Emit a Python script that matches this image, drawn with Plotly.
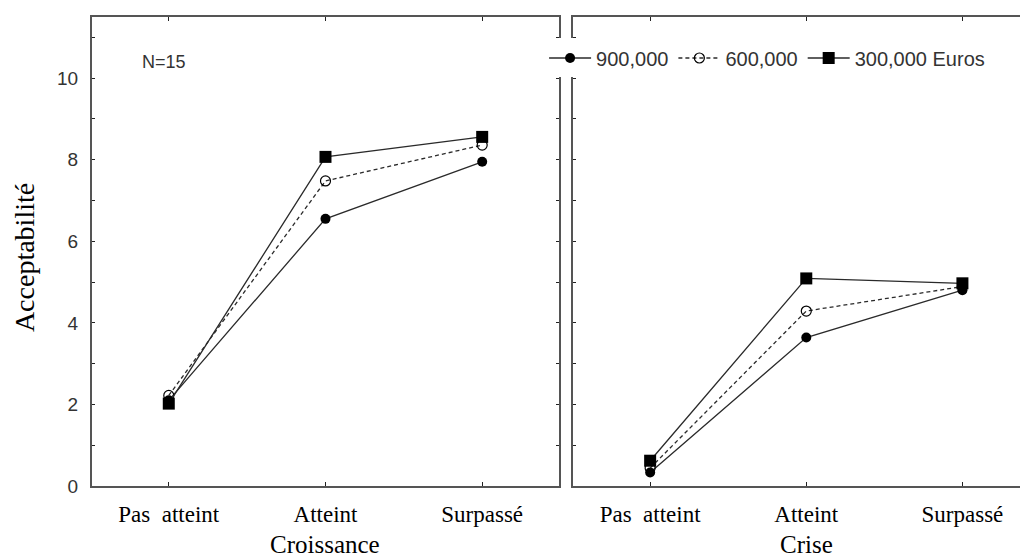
import plotly.graph_objs as go

# categories and values
categories = ['Pas\u00a0 atteint', 'Atteint', 'Surpassé']
series_names = ['900,000', '600,000', '300,000 Euros']

croissance_900 = [2.10, 6.55, 7.95]
croissance_600 = [2.22, 7.48, 8.36]
croissance_300 = [2.02, 8.07, 8.56]

crise_900 = [0.33, 3.64, 4.80]
crise_600 = [0.44, 4.29, 4.89]
crise_300 = [0.62, 5.09, 4.97]

y_ticks = list(range(0, 12))
y_labels = [str(v) if v % 2 == 0 else '' for v in y_ticks]

line_col = '#2a2a2a'
styles = [
    dict(line=dict(color=line_col, width=1.3, dash='solid'),
         marker=dict(symbol='circle', size=10, color='black')),
    dict(line=dict(color=line_col, width=1.3, dash='4px,3px'),
         marker=dict(symbol='circle-open', size=10, color='black', line=dict(width=1.2))),
    dict(line=dict(color=line_col, width=1.3, dash='solid'),
         marker=dict(symbol='square', size=12, color='black')),
]

data = []
for name, vals, st in zip(series_names, [croissance_900, croissance_600, croissance_300], styles):
    data.append(go.Scatter(x=categories, y=vals, mode='lines+markers', name=name,
                           xaxis='x', yaxis='y', showlegend=True, **st))
for name, vals, st in zip(series_names, [crise_900, crise_600, crise_300], styles):
    data.append(go.Scatter(x=categories, y=vals, mode='lines+markers', name=name,
                           xaxis='x2', yaxis='y2', showlegend=False, **st))

frame = '#555555'
serif = 'Liberation Serif, Times New Roman, serif'
sans = 'Liberation Sans, Arial, sans-serif'

xcommon = dict(type='category', showline=True, linecolor=frame,
               linewidth=2, mirror='ticks', ticks='inside', ticklen=4, tickcolor='#222',
               showgrid=False, zeroline=False, ticklabelstandoff=6,
               tickfont=dict(family=serif, size=23, color='black'))

# the page body has an 8px margin, so the figure is 8px smaller than the window
# the right panel runs past the window edge in the original, hence its shorter range
layout = go.Layout(
    width=1020, height=550,
    margin=dict(l=84, r=0, t=9, b=72),
    plot_bgcolor='white', paper_bgcolor='white',
    xaxis=dict(domain=[0, 0.4989], anchor='y', range=[-0.49, 2.49], **xcommon),
    xaxis2=dict(domain=[0.5139, 1], anchor='y2', range=[-0.494, 2.42], **xcommon),
    yaxis=dict(range=[0, 11.5], tickvals=y_ticks, ticktext=y_labels, showline=True,
               linecolor=frame, linewidth=2, mirror='ticks', ticks='inside', ticklen=3,
               tickcolor='#222', showgrid=False, zeroline=False, ticklabelstandoff=8,
               tickfont=dict(family=sans, size=19, color='#333')),
    yaxis2=dict(range=[0, 11.5], tickvals=y_ticks, showticklabels=False, showline=True,
                linecolor=frame, linewidth=2, mirror=False, ticks='inside', ticklen=3,
                tickcolor='#222', showgrid=False, zeroline=False, anchor='x2'),
    legend=dict(orientation='h', x=0.483, y=0.9126, xanchor='left', yanchor='middle',
                bgcolor='white', font=dict(family=sans, size=20, color='#333'),
                itemwidth=42, tracegroupgap=0),
    annotations=[
        dict(text='N=15', x=0.0769, y=0.904, xref='paper', yref='paper', showarrow=False,
             xanchor='center', yanchor='middle',
             font=dict(family=sans, size=18, color='#333')),
        dict(text='Acceptabilité', x=-0.0726, y=0.486, xref='paper', yref='paper',
             textangle=-90, showarrow=False, xanchor='center', yanchor='middle',
             font=dict(family=serif, size=28, color='black')),
        dict(text='Croissance', x='Atteint', y=-0.1237, xref='x', yref='paper',
             showarrow=False, xanchor='center', yanchor='middle',
             font=dict(family=serif, size=25, color='black')),
        dict(text='Crise', x='Atteint', y=-0.1237, xref='x2', yref='paper',
             showarrow=False, xanchor='center', yanchor='middle',
             font=dict(family=serif, size=25, color='black')),
    ],
)

fig = go.Figure(data=data, layout=layout)
fig.write_html('out.html')
